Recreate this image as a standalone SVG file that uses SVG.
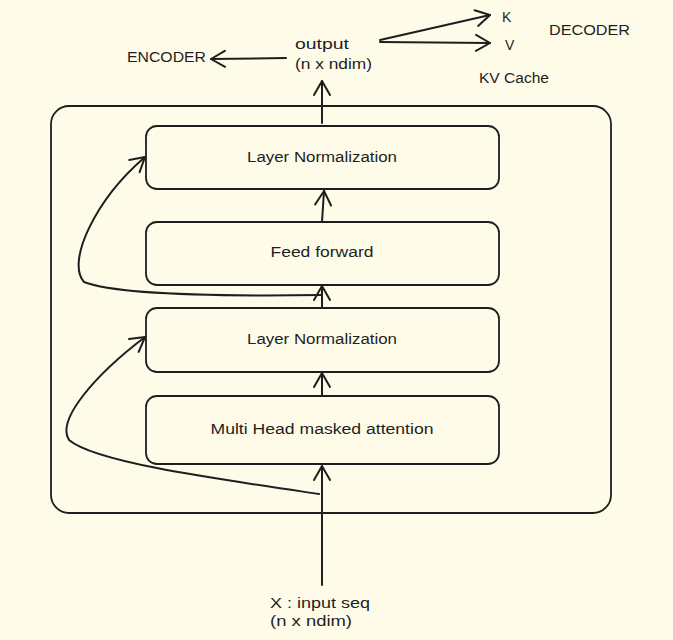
<svg xmlns="http://www.w3.org/2000/svg" width="673" height="640" viewBox="0 0 673 640">
<defs>
<style>
.box{fill:none;stroke:#1e1e1e;stroke-width:1.8}
.ln{fill:none;stroke:#1e1e1e;stroke-width:2;stroke-linecap:round;stroke-linejoin:round}
.t{font-family:"Liberation Sans","DejaVu Sans",sans-serif;font-size:14px;fill:#1e1e1e}
.c{text-anchor:middle}
</style>
<marker id="ah" viewBox="0 0 20 20" refX="18" refY="10" markerWidth="20" markerHeight="20" markerUnits="userSpaceOnUse" orient="auto">
<path d="M4 2 L18 10 L4 18" fill="none" stroke="#1e1e1e" stroke-width="2" stroke-linecap="round" stroke-linejoin="round"/>
</marker>
</defs>
<rect width="673" height="640" fill="#fefce9"/>
<g id="container"><rect class="box" x="51" y="106" width="560" height="407" rx="18"/></g>
<g id="ln-top"><rect class="box" x="146" y="126" width="353" height="63" rx="11"/><text class="t c" x="322" y="162" textLength="150" lengthAdjust="spacingAndGlyphs">Layer Normalization</text></g>
<g id="ff"><rect class="box" x="146" y="222" width="353" height="63" rx="11"/><text class="t c" x="322" y="257" textLength="103" lengthAdjust="spacingAndGlyphs">Feed forward</text></g>
<g id="ln-bottom"><rect class="box" x="146" y="308" width="353" height="64" rx="11"/><text class="t c" x="322" y="344" textLength="150" lengthAdjust="spacingAndGlyphs">Layer Normalization</text></g>
<g id="mha"><rect class="box" x="146" y="396" width="353" height="68" rx="11"/><text class="t c" x="322" y="434" textLength="223" lengthAdjust="spacingAndGlyphs">Multi Head masked attention</text></g>
<g id="input"><text class="t" x="270" y="608" textLength="100" lengthAdjust="spacingAndGlyphs">X : input seq</text><text class="t" x="270" y="626" textLength="82" lengthAdjust="spacingAndGlyphs">(n x ndim)</text></g>
<g id="output"><text class="t" x="295" y="49" textLength="54" lengthAdjust="spacingAndGlyphs">output</text><text class="t" x="295" y="69" textLength="77" lengthAdjust="spacingAndGlyphs">(n x ndim)</text></g>
<g id="encoder"><text class="t" x="127" y="62" textLength="79" lengthAdjust="spacingAndGlyphs">ENCODER</text></g>
<g id="decoder"><text class="t" x="549" y="35" textLength="81" lengthAdjust="spacingAndGlyphs">DECODER</text></g>
<g id="k"><text class="t" x="502" y="22">K</text></g>
<g id="v"><text class="t" x="505" y="50">V</text></g>
<g id="kvcache"><text class="t" x="479" y="83" textLength="70" lengthAdjust="spacingAndGlyphs">KV Cache</text></g>
<g id="connectors">
<path class="ln" d="M322 585 L322 466" marker-end="url(#ah)" stroke-width="2.4"/>
<path class="ln" d="M322 396 L322 373" marker-end="url(#ah)"/>
<path class="ln" d="M322 308 L322 286" marker-end="url(#ah)"/>
<path class="ln" d="M322 222 L324 191" marker-end="url(#ah)"/>
<path class="ln" d="M322 123 L322 81" marker-end="url(#ah)"/>
<path class="ln" d="M286 58 L211 59" marker-end="url(#ah)"/>
<path class="ln" d="M380 40 L490 15" marker-end="url(#ah)"/>
<path class="ln" d="M380 42 L490 43" marker-end="url(#ah)"/>
<path class="ln" d="M319 494 C210 478 95 462 69 440 C56 420 95 375 145 337" marker-end="url(#ah)"/>
<path class="ln" d="M321 295 C250 296 120 296 84 282 C66 262 95 200 145 157" marker-end="url(#ah)"/>
</g>
</svg>
